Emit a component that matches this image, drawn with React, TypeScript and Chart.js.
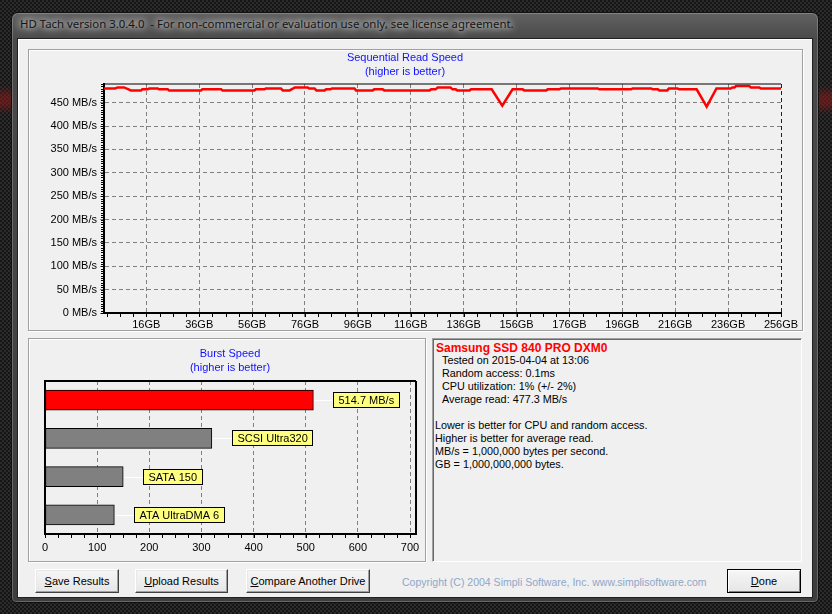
import React, { useEffect, useRef } from "react";
import { Chart, registerables } from "chart.js";

Chart.register(...registerables);

const UI_FONT = '"Liberation Sans", Arial, sans-serif';
Chart.defaults.font.family = UI_FONT;

// ---------- Sequential read (top chart) ----------
const positionsGB = [
  0, 4.2, 5.2, 7.6, 10.2, 14.0, 14.5, 16.6, 17.1, 20.3, 20.8, 24.1, 24.6, 36.7, 37.2, 44.3, 44.8,
  56.9, 57.4, 60.7, 61.2, 66.9, 67.6, 70.2, 72.2, 77.0, 77.6, 79.6, 80.3, 83.4, 84.0, 85.6, 86.2,
  94.7, 95.3, 101.6, 102.2, 105.4, 106.0, 123.1, 123.7, 125.4, 126.2, 131.0, 131.8, 133.0, 133.6,
  138.2, 138.8, 146.6, 150.6, 154.5, 158.3, 158.9, 167.2, 167.8, 172.2, 172.8, 186.7, 187.3, 199.3,
  199.9, 206.9, 207.5, 209.4, 210.0, 213.0, 213.6, 216.9, 217.5, 224.1, 227.9, 231.6, 237.0, 237.6,
  238.4, 239.0, 244.0, 244.6, 247.8, 248.4, 256,
];
const readSpeedMBs = [
  480.5, 480.5, 482.7, 482.7, 476.3, 476.3, 478.5, 478.5, 480.5, 480.5, 478.5, 478.5, 476.3, 476.3, 478.5, 478.5, 476.3,
  476.3, 478.5, 478.5, 480.5, 480.5, 476.3, 476.3, 482.7, 482.7, 480.5, 480.5, 476.3, 476.3, 478.5, 478.5, 480.5,
  480.5, 476.3, 476.3, 478.5, 478.5, 476.3, 476.3, 478.5, 478.5, 482.7, 482.7, 478.5, 478.5, 476.3,
  476.3, 478.5, 478.5, 443.5, 478.5, 478.5, 476.3, 476.3, 478.5, 478.5, 480.5, 480.5, 478.5, 478.5,
  480.5, 480.5, 478.5, 478.5, 476.3, 476.3, 480.5, 480.5, 478.5, 478.5, 441.4, 480.5, 480.5, 482.7,
  482.7, 485.5, 485.5, 482.7, 482.7, 480.5, 480.5,
];
const capacityTicksGB = [16, 36, 56, 76, 96, 116, 136, 156, 176, 196, 216, 236, 256];
const speedTicksMBs = [0, 50, 100, 150, 200, 250, 300, 350, 400, 450];

// ---------- Burst speed (bottom-left chart) ----------
const burstCategories = ["Samsung SSD 840 PRO DXM0", "SCSI Ultra320", "SATA 150", "ATA UltraDMA 6"];
const burstValues = [514.7, 320, 150, 133];
const burstLabels = ["514.7 MB/s", "SCSI Ultra320", "SATA 150", "ATA UltraDMA 6"];
const burstColors = ["#ff0000", "#808080", "#808080", "#808080"];
const burstTicks = [0, 100, 200, 300, 400, 500, 600, 700];

// ---------- Info panel ----------
const driveName = "Samsung SSD 840 PRO DXM0";
const resultLines = [
  "Tested on 2015-04-04 at 13:06",
  "Random access: 0.1ms",
  "CPU utilization: 1% (+/- 2%)",
  "Average read: 477.3 MB/s",
];
const noteLines = [
  "Lower is better for CPU and random access.",
  "Higher is better for average read.",
  "MB/s = 1,000,000 bytes per second.",
  "GB = 1,000,000,000 bytes.",
];

const minorTicksPlugin = {
  id: "minorTicks",
  afterDraw(chart: any, _a: any, opts: any) {
    const ctx = chart.ctx;
    ctx.save();
    ctx.strokeStyle = "#000";
    ctx.lineWidth = 1;
    for (const spec of opts.axes || []) {
      const scale = chart.scales[spec.axis];
      if (!scale) continue;
      ctx.beginPath();
      for (let v = spec.start; v <= scale.max + 1e-9; v += spec.step) {
        const p = Math.round(scale.getPixelForValue(v)) + 0.5;
        if (scale.isHorizontal()) {
          const y0 = chart.chartArea.bottom + 1;
          ctx.moveTo(p, y0);
          ctx.lineTo(p, y0 + spec.length);
        } else {
          const x0 = chart.chartArea.left - 1;
          ctx.moveTo(x0 - spec.length, p);
          ctx.lineTo(x0, p);
        }
      }
      ctx.stroke();
    }
    ctx.restore();
  },
};

const plotFramePlugin = {
  id: "plotFrame",
  afterDatasetsDraw(chart: any, _a: any, opts: any) {
    const { left, right, top, bottom } = chart.chartArea;
    const ctx = chart.ctx;
    ctx.save();
    ctx.strokeStyle = "#000";
    ctx.lineWidth = opts.width || 1;
    ctx.beginPath();
    if (opts.top) {
      ctx.moveTo(left, top);
      ctx.lineTo(right, top);
    }
    if (opts.right) {
      ctx.moveTo(right, top);
      ctx.lineTo(right, bottom);
    }
    ctx.stroke();
    ctx.restore();
  },
};

const burstLabelPlugin = {
  id: "burstLabels",
  afterDatasetsDraw(chart: any, _a: any, opts: any) {
    const ctx = chart.ctx;
    const meta = chart.getDatasetMeta(0);
    ctx.save();
    ctx.font = `11px ${UI_FONT}`;
    ctx.textBaseline = "middle";
    meta.data.forEach((bar: any, i: number) => {
      const text = opts.labels[i];
      const xEnd = bar.x;
      const yMid = Math.round(bar.y);
      const boxLeft = Math.round(xEnd + 20);
      const w = Math.round(ctx.measureText(text).width + 11);
      const h = 16;
      const top = Math.round(yMid - h / 2);
      ctx.strokeStyle = "#ffffff";
      ctx.lineWidth = 1;
      ctx.beginPath();
      ctx.moveTo(xEnd + 1, yMid + 0.5);
      ctx.lineTo(boxLeft, yMid + 0.5);
      ctx.stroke();
      ctx.fillStyle = "#ffff80";
      ctx.fillRect(boxLeft, top, w, h);
      ctx.strokeStyle = "#000";
      ctx.strokeRect(boxLeft + 0.5, top + 0.5, w - 1, h - 1);
      ctx.fillStyle = "#000";
      ctx.fillText(text, boxLeft + 5.5, yMid + 1);
    });
    ctx.restore();
  },
};

function ReadSpeedChart() {
  const ref = useRef<HTMLCanvasElement>(null);
  useEffect(() => {
    const chart = new Chart(ref.current as HTMLCanvasElement, {
      type: "line",
      data: {
        datasets: [
          {
            data: positionsGB.map((x, i) => ({ x, y: readSpeedMBs[i] })),
            borderColor: "#ff0000",
            borderWidth: 2.5,
            pointRadius: 0,
            tension: 0,
            fill: false,
          },
        ],
      },
      options: {
        animation: false,
        responsive: false,
        events: [],
        layout: { padding: { left: 0, right: 21, top: 0, bottom: 0 } },
        plugins: {
          legend: { display: false },
          tooltip: { enabled: false },
          title: {
            display: true,
            text: ["Sequential Read Speed", "(higher is better)"],
            color: "#1010ff",
            font: { size: 11, weight: "normal", lineHeight: 14 / 11 },
            padding: { top: 1, bottom: 5 },
          },
          minorTicks: {
            axes: [
              { axis: "x", start: 1, step: 5, length: 3 },
              { axis: "y", start: 0, step: 5, length: 2 },
            ],
          },
          plotFrame: { top: true, width: 1 },
        } as any,
        scales: {
          x: {
            type: "linear",
            min: 0,
            max: 256,
            afterBuildTicks: (s: any) => {
              s.ticks = capacityTicksGB.map((v) => ({ value: v }));
            },
            afterFit: (s: any) => {
              s.height = 17;
            },
            ticks: {
              callback: (v: any) => v + "GB",
              color: "#000",
              font: { size: 11 },
              padding: 1,
              maxRotation: 0,
              autoSkip: false,
            },
            grid: {
              color: (c: any) => (c.tick && c.tick.value === 256 ? "#202020" : "#808080"),
              lineWidth: 1,
              tickLength: 4,
              tickColor: "#808080",
            },
            border: { display: true, color: "#000", width: 2, dash: [4, 3] },
          },
          y: {
            min: 0,
            max: 490,
            afterBuildTicks: (s: any) => {
              s.ticks = speedTicksMBs.map((v) => ({ value: v }));
            },
            afterFit: (s: any) => {
              s.width = 75;
            },
            ticks: {
              callback: (v: any) => v + " MB/s",
              color: "#000",
              font: { size: 11 },
              padding: 3,
            },
            grid: { color: "#808080", lineWidth: 1, tickLength: 4, tickColor: "#808080" },
            border: { display: true, color: "#000", width: 2, dash: [4, 3] },
          },
        },
      },
      plugins: [minorTicksPlugin, plotFramePlugin],
    } as any);
    return () => chart.destroy();
  }, []);
  return (
    <canvas
      ref={ref}
      width={773}
      height={280}
      style={{ position: "absolute", left: 29, top: 50, width: 773, height: 280 }}
    />
  );
}

function BurstChart() {
  const ref = useRef<HTMLCanvasElement>(null);
  useEffect(() => {
    const chart = new Chart(ref.current as HTMLCanvasElement, {
      type: "bar",
      data: {
        labels: burstCategories,
        datasets: [
          {
            data: burstValues,
            backgroundColor: burstColors,
            borderColor: "#000",
            borderWidth: 1,
            borderSkipped: false,
            barThickness: 20,
          },
        ],
      },
      options: {
        indexAxis: "y",
        animation: false,
        responsive: false,
        events: [],
        layout: { padding: { left: 15, right: 9, top: 0, bottom: 0 } },
        plugins: {
          legend: { display: false },
          tooltip: { enabled: false },
          title: {
            display: true,
            text: ["Burst Speed", "(higher is better)"],
            color: "#1010ff",
            font: { size: 11, weight: "normal", lineHeight: 14 / 11 },
            padding: { top: 8, bottom: 6 },
          },
          minorTicks: { axes: [{ axis: "x", start: 0, step: 25, length: 3 }] },
          plotFrame: { top: true, right: true, width: 2 },
          burstLabels: { labels: burstLabels },
        } as any,
        scales: {
          x: {
            type: "linear",
            min: 0,
            max: 711.5,
            afterBuildTicks: (s: any) => {
              s.ticks = burstTicks.map((v) => ({ value: v }));
            },
            afterFit: (s: any) => {
              s.height = 27;
            },
            ticks: { color: "#000", font: { size: 11 }, padding: 3, maxRotation: 0, autoSkip: false },
            grid: { color: "#808080", lineWidth: 1, tickLength: 4, tickColor: "#808080" },
            border: { display: true, color: "#000", width: 2, dash: [4, 3] },
          },
          y: {
            ticks: { display: false },
            grid: { display: false, drawTicks: false },
            border: { display: true, color: "#000", width: 2 },
            afterFit: (s: any) => {
              s.width = 1;
            },
          },
        },
      },
      plugins: [minorTicksPlugin, plotFramePlugin, burstLabelPlugin],
    } as any);
    return () => chart.destroy();
  }, []);
  return (
    <canvas
      ref={ref}
      width={396}
      height={222}
      style={{ position: "absolute", left: 29, top: 339, width: 396, height: 222 }}
    />
  );
}

const abs = (l: number, t: number, w: number, h: number): React.CSSProperties => ({
  position: "absolute",
  left: l,
  top: t,
  width: w,
  height: h,
  boxSizing: "border-box",
});

function Button(props: { left: number; width: number; accel: string; rest: string; isDefault?: boolean }) {
  const { left, width, accel, rest, isDefault } = props;
  return (
    <div
      style={{
        ...abs(left, 569, width, 24),
        background: "linear-gradient(#f6f6f6, #e6e6e6)",
        borderStyle: "solid",
        borderWidth: 1,
        borderColor: isDefault ? "#000" : "#ffffff #404040 #404040 #ffffff",
        boxShadow: isDefault
          ? "inset 1px 1px 0 #fff, inset -1px -1px 0 #808080"
          : "inset -1px -1px 0 #a0a0a0, inset 1px 1px 0 #e8e8e8",
        font: `11px ${UI_FONT}`,
        color: "#000",
        display: "flex",
        alignItems: "center",
        justifyContent: "center",
        whiteSpace: "pre",
      }}
    >
      <span>
        <u>{accel}</u>
        {rest}
      </span>
    </div>
  );
}

export default function App() {
  return (
    <div
      style={{
        position: "fixed",
        left: 0,
        top: 0,
        width: 832,
        height: 614,
        overflow: "hidden",
        backgroundColor: "#1c1c1c",
        backgroundImage:
          "linear-gradient(to bottom, transparent 86px, rgba(140,25,25,0.55) 96px, rgba(140,25,25,0.55) 104px, transparent 114px), repeating-conic-gradient(#2c2c2c 0 25%, #151515 0 50%)",
        backgroundSize: "100% 100%, 4px 4px",
      }}
    >
      {/* window frame */}
      <div
        style={{
          ...abs(11, 12, 808, 591),
          borderRadius: "7px 7px 5px 5px",
          background: "linear-gradient(#616161 0px, #4a4a4a 26px, #3e3e3e 100%)",
          border: "1px solid #101010",
          boxShadow: "inset 0 0 0 1px rgba(255,255,255,0.22)",
        }}
      />
      <div
        style={{
          position: "absolute",
          left: 20,
          top: 16,
          height: 16,
          lineHeight: "16px",
          font: `11.4px "Noto Sans", sans-serif`,
          color: "#151515",
          whiteSpace: "pre",
          textShadow: "0 0 6px rgba(255,255,255,0.95), 0 0 10px rgba(255,255,255,0.8)",
        }}
      >
        HD Tach version 3.0.4.0  - For non-commercial or evaluation use only, see license agreement.
      </div>
      {/* client area */}
      <div
        style={{
          ...abs(17, 38, 796, 560),
          background: "#f0f0f0",
          border: "1px solid #202020",
          boxShadow: "inset 1px 1px 0 #ffffff",
        }}
      />
      {/* panels */}
      <div
        style={{
          ...abs(28, 49, 775, 282),
          border: "1px solid #a0a0a0",
          boxShadow: "1px 1px 0 #ffffff, inset 1px 1px 0 #ffffff",
        }}
      />
      <div
        style={{
          ...abs(28, 338, 398, 224),
          border: "1px solid #a0a0a0",
          boxShadow: "1px 1px 0 #ffffff, inset 1px 1px 0 #ffffff",
        }}
      />
      <div
        style={{
          ...abs(432, 338, 370, 224),
          borderStyle: "solid",
          borderWidth: 1,
          borderColor: "#a0a0a0 #ffffff #ffffff #a0a0a0",
          boxShadow: "inset 1px 1px 0 #696969",
          background: "#f0f0f0",
        }}
      />
      <ReadSpeedChart />
      <BurstChart />
      {/* info text */}
      <div
        style={{
          position: "absolute",
          left: 436,
          top: 341,
          font: `bold 12px ${UI_FONT}`,
          lineHeight: "14px",
          color: "#ff0000",
          whiteSpace: "pre",
        }}
      >
        {driveName}
      </div>
      <div
        style={{
          position: "absolute",
          left: 442,
          top: 354,
          font: `10.8px ${UI_FONT}`,
          lineHeight: "13.1px",
          color: "#000",
          whiteSpace: "pre",
        }}
      >
        {resultLines.map((l) => (
          <div key={l}>{l}</div>
        ))}
      </div>
      <div
        style={{
          position: "absolute",
          left: 435,
          top: 419,
          font: `10.8px ${UI_FONT}`,
          lineHeight: "13.1px",
          color: "#000",
          whiteSpace: "pre",
        }}
      >
        {noteLines.map((l) => (
          <div key={l}>{l}</div>
        ))}
      </div>
      {/* buttons */}
      <Button left={35} width={84} accel="S" rest="ave Results" />
      <Button left={135} width={93} accel="U" rest="pload Results" />
      <Button left={246} width={124} accel="C" rest="ompare Another Drive" />
      <Button left={727} width={74} accel="D" rest="one" isDefault />
      <div
        style={{
          position: "absolute",
          left: 402,
          top: 576,
          lineHeight: "14px",
          font: `10.5px ${UI_FONT}`,
          color: "#8fa6c9",
          whiteSpace: "pre",
        }}
      >
        Copyright (C) 2004 Simpli Software, Inc. www.simplisoftware.com
      </div>
    </div>
  );
}
